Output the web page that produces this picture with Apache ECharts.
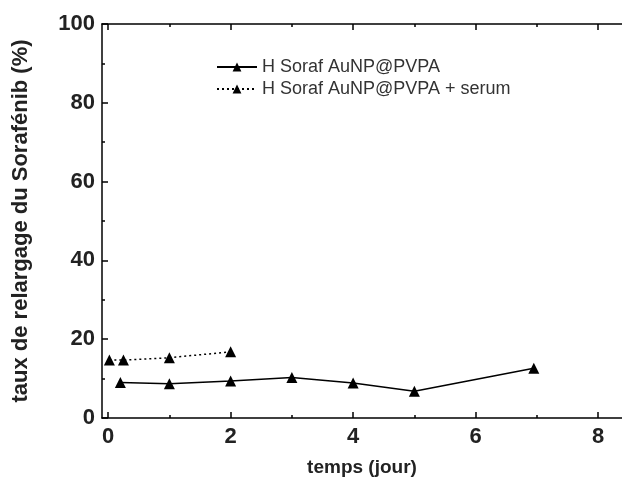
<!DOCTYPE html>
<html><head><meta charset="utf-8">
<script src="https://cdn.jsdelivr.net/npm/echarts@6/dist/echarts.min.js"></script>
<style>html,body{margin:0;padding:0;background:#fff}#c{width:622px;height:478px}</style>
</head><body><div id="c"></div>
<script>
const seriesNames = ['H Soraf AuNP@PVPA', 'H Soraf AuNP@PVPA + serum'];
const timeA = [0.2, 1, 2, 3, 4, 5, 6.95];
const valuesA = [9.0, 8.7, 9.4, 10.3, 8.9, 6.8, 12.6];
const timeB = [0.02, 0.25, 1, 2];
const valuesB = [14.7, 14.7, 15.3, 16.8];
const xTicks = [0, 2, 4, 6, 8];
const xMinorTicks = [1, 3, 5, 7];
const yTicks = [0, 20, 40, 60, 80, 100];

const font = '"Liberation Sans", Arial, sans-serif';
const X_MIN = -0.1, X_MAX = 8.39;
const chart = echarts.init(document.getElementById('c'));
const lineSty = {color: '#000', width: 1.5};
function xAx(pos, major, withLabels) {
  return {
    type: 'value', position: pos, min: X_MIN, max: X_MAX,
    axisLine: {show: major, onZero: false, lineStyle: lineSty},
    axisTick: {show: true, inside: true, length: major ? 6 : 3, lineStyle: lineSty,
      customValues: major ? xTicks : xMinorTicks},
    axisLabel: withLabels ? {show: true, customValues: xTicks, fontFamily: font, fontSize: 22,
      fontWeight: 'bold', color: '#222', margin: 8} : {show: false},
    splitLine: {show: false}
  };
}
const xBottom = xAx('bottom', true, true);
xBottom.name = 'temps (jour)';
xBottom.nameLocation = 'middle';
xBottom.nameGap = 40;
xBottom.nameTextStyle = {fontFamily: font, fontSize: 19, fontWeight: 'bold', color: '#222'};

chart.setOption({
  animation: false,
  backgroundColor: '#fff',
  grid: {left: 102, top: 24, right: 0, bottom: 60, containLabel: false, outerBoundsMode: 'none'},
  legend: {
    orient: 'vertical', left: 211, top: 53, itemGap: 4, itemWidth: 40, itemHeight: 11,
    textStyle: {fontFamily: font, fontSize: 18, color: '#333'},
    data: seriesNames
  },
  xAxis: [xBottom, xAx('bottom', false, false), xAx('top', true, false), xAx('top', false, false)],
  yAxis: [{
    type: 'value', position: 'left', min: 0, max: 100, interval: 20,
    name: 'taux de relargage du Sorafénib (%)', nameLocation: 'middle', nameGap: 70,
    nameTextStyle: {fontFamily: font, fontSize: 22, fontWeight: 'bold', color: '#222'},
    axisLine: {show: true, onZero: false, lineStyle: lineSty},
    axisTick: {show: true, inside: true, length: 6, lineStyle: lineSty},
    minorTick: {show: true, splitNumber: 2, length: 3, lineStyle: lineSty},
    axisLabel: {fontFamily: font, fontSize: 22, fontWeight: 'bold', color: '#222', margin: 7},
    splitLine: {show: false}
  }],
  series: [
    {
      name: seriesNames[0], type: 'line', xAxisIndex: 0,
      data: timeA.map((t, i) => [t, valuesA[i]]),
      symbol: 'triangle', symbolSize: 11,
      lineStyle: {color: '#000', width: 1.5, type: 'solid'},
      itemStyle: {color: '#000'}
    },
    {
      name: seriesNames[1], type: 'line', xAxisIndex: 0,
      data: timeB.map((t, i) => [t, valuesB[i]]),
      symbol: 'triangle', symbolSize: 11,
      lineStyle: {color: '#000', width: 1.5, type: [2, 3]},
      itemStyle: {color: '#000'}
    }
  ]
});
</script></body></html>
